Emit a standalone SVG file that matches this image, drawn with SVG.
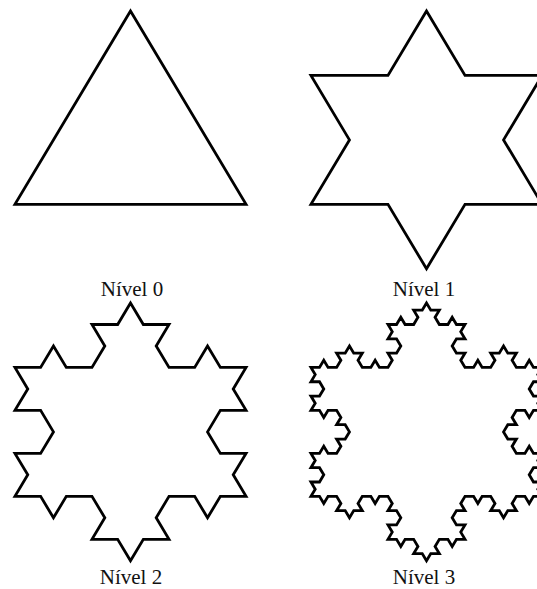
<svg xmlns="http://www.w3.org/2000/svg" width="537" height="589" viewBox="0 0 537 589">
<style>
.k{fill:none;stroke:#000;stroke-width:2.8;stroke-linejoin:miter;vector-effect:non-scaling-stroke}
.t{font-family:"Liberation Serif","Times New Roman",serif;font-size:21px;fill:#111;text-anchor:middle}
</style>
<rect width="537" height="589" fill="#fff"/>
<g id="nivel0">
<g transform="translate(130.5,11) scale(4.28,7.16)"><path class="k" vector-effect="non-scaling-stroke" d="M0 0l-27 27 54 0z"/></g>
<text class="t" x="132" y="295.5">Nível 0</text>
</g>
<g id="nivel1">
<g transform="translate(426.5,11) scale(4.28,7.16)"><path class="k" vector-effect="non-scaling-stroke" d="M0 0l-9 9 -18 0 9 9 -9 9 18 0 9 9 9 -9 18 0 -9 -9 9 -9 -18 0z"/></g>
<text class="t" x="424" y="295.5">Nível 1</text>
</g>
<g id="nivel2">
<g transform="translate(130.5,303) scale(4.28,7.16)"><path class="k" vector-effect="non-scaling-stroke" d="M0 0l-3 3 -6 0 3 3 -3 3 -6 0 -3 -3 -3 3 -6 0 3 3 -3 3 6 0 3 3 -3 3 -6 0 3 3 -3 3 6 0 3 3 3 -3 6 0 3 3 -3 3 6 0 3 3 3 -3 6 0 -3 -3 3 -3 6 0 3 3 3 -3 6 0 -3 -3 3 -3 -6 0 -3 -3 3 -3 6 0 -3 -3 3 -3 -6 0 -3 -3 -3 3 -6 0 -3 -3 3 -3 -6 0 -3 -3z"/></g>
<text class="t" x="131" y="584">Nível 2</text>
</g>
<g id="nivel3">
<g transform="translate(426.5,303) scale(4.28,7.16)"><path class="k" vector-effect="non-scaling-stroke" d="M0 0l
-1 1 -2 0 1 1 -1 1
-2 0 -1 -1 -1 1 -2 0
1 1 -1 1 2 0 1 1
-1 1 -2 0 1 1 -1 1
-2 0 -1 -1 -1 1 -2 0
-1 -1 1 -1 -2 0 -1 -1
-1 1 -2 0 1 1 -1 1
-2 0 -1 -1 -1 1 -2 0
1 1 -1 1 2 0 1 1
-1 1 -2 0 1 1 -1 1
2 0 1 1 1 -1 2 0
1 1 -1 1 2 0 1 1
-1 1 -2 0 1 1 -1 1
-2 0 -1 -1 -1 1 -2 0
1 1 -1 1 2 0 1 1
-1 1 -2 0 1 1 -1 1
2 0 1 1 1 -1 2 0
1 1 -1 1 2 0 1 1
1 -1 2 0 -1 -1 1 -1
2 0 1 1 1 -1 2 0
1 1 -1 1 2 0 1 1
-1 1 -2 0 1 1 -1 1
2 0 1 1 1 -1 2 0
1 1 -1 1 2 0 1 1
1 -1 2 0 -1 -1 1 -1
2 0 1 1 1 -1 2 0
-1 -1 1 -1 -2 0 -1 -1
1 -1 2 0 -1 -1 1 -1
2 0 1 1 1 -1 2 0
1 1 -1 1 2 0 1 1
1 -1 2 0 -1 -1 1 -1
2 0 1 1 1 -1 2 0
-1 -1 1 -1 -2 0 -1 -1
1 -1 2 0 -1 -1 1 -1
-2 0 -1 -1 -1 1 -2 0
-1 -1 1 -1 -2 0 -1 -1
1 -1 2 0 -1 -1 1 -1
2 0 1 1 1 -1 2 0
-1 -1 1 -1 -2 0 -1 -1
1 -1 2 0 -1 -1 1 -1
-2 0 -1 -1 -1 1 -2 0
-1 -1 1 -1 -2 0 -1 -1
-1 1 -2 0 1 1 -1 1
-2 0 -1 -1 -1 1 -2 0
-1 -1 1 -1 -2 0 -1 -1
1 -1 2 0 -1 -1 1 -1
-2 0 -1 -1 -1 1 -2 0
-1 -1 1 -1 -2 0 -1 -1z"/></g>
<text class="t" x="424" y="584">Nível 3</text>
</g>
</svg>
